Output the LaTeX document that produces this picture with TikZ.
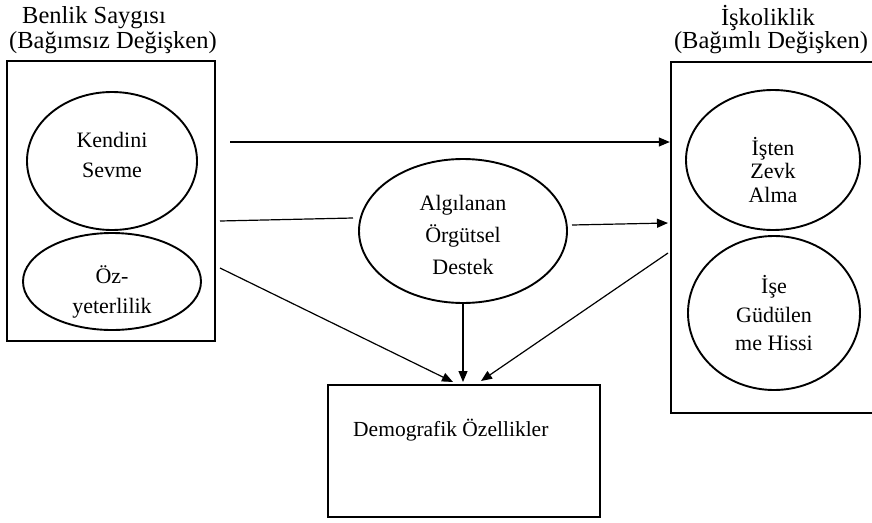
\documentclass[tikz,border=0pt]{standalone}
\usepackage{fontspec}
\setmainfont{Liberation Serif}
\usetikzlibrary{shapes.geometric,arrows.meta}
\newlength{\du}
\setlength{\du}{1pt}
\tikzset{
  varbox/.style={draw, line width=2.4\du, minimum width=#1, inner sep=0pt},
  oval/.style={draw, ellipse, line width=1.9\du, inner sep=0pt},
  ovaltext/.style={align=center, inner sep=0pt, font=\fontsize{22}{#1}\selectfont},
  title/.style={font=\fontsize{24.5}{30}\selectfont, inner sep=0pt},
  conn/.style={line width=1.2\du},
  arr/.style={conn, -{Triangle[length=11pt,width=9pt]}}
}

\begin{document}
\begin{tikzpicture}[yscale=-1, x=1\du, y=1\du]
\useasboundingbox (0,0) rectangle (872,522);
% setfont left to latex
\node[title] (ltitle1) at (94,18) {Benlik Saygısı};
\node[title] (ltitle2) at (113,43) {(Bağımsız Değişken)};
\node[title] (rtitle1) at (768,18) {İşkoliklik};
\node[title] (rtitle2) at (771,43) {(Bağımlı Değişken)};
% independent variable
\node[varbox=208\du, minimum height=280\du] (leftbox) at (111,201) {};
\node[oval, minimum width=170\du, minimum height=138\du] (kendini) at (112,161) {};
\node[ovaltext=30] (kendinitext) at (112,155) {Kendini\\Sevme};
\node[oval, minimum width=178\du, minimum height=97\du] (ozyet) at (112,281.5) {};
\node[ovaltext=30] (ozyettext) at (112,292) {Öz-\\yeterlilik};
% dependent variable
\node[varbox=205\du, minimum height=351\du] (rightbox) at (773.5,237.5) {};
\node[oval, minimum width=174\du, minimum height=140\du] (isten) at (773,160) {};
\node[ovaltext=23.5] (istentext) at (773,170) {İşten\\Zevk\\Alma};
\node[oval, minimum width=172\du, minimum height=154\du] (isegud) at (774,313) {};
\node[ovaltext=28.5] (isegudtext) at (774,313.5) {İşe\\Güdülen\\me Hissi};
% mediator
\node[oval, minimum width=208\du, minimum height=144\du] (algi) at (463,231) {};
\node[ovaltext=32] (algitext) at (463,234.5) {Algılanan\\Örgütsel\\Destek};
% control
\node[draw, line width=1.5\du, minimum width=272\du, minimum height=132\du] (demo) at (464,451) {};
\node[font=\fontsize{21.5}{26}\selectfont, anchor=west, inner sep=0pt] (demotext) at (353,430) {Demografik Özellikler};
% connectors
\coordinate (a1) at (230,142);
\coordinate (b1) at (220,221);
\coordinate (b2) at (353,218);
\coordinate (c1) at (572,225);
\coordinate (c2) at (668,223);
\coordinate (d1) at (220,268);
\coordinate (d2) at (453,382);
\coordinate (e1) at (668,253);
\coordinate (e2) at (481,381);
\coordinate (f2) at (464,382);
\draw[arr] (a1) -- (rightbox.west |- a1);
\draw[conn] (b1) -- (b2);
\draw[arr] (c1) -- (c2);
\draw[arr] (d1) -- (d2);
\draw[arr] (algi.south) -- (algi.south |- f2);
\draw[arr] (e1) -- (e2);
\end{tikzpicture}
\end{document}
